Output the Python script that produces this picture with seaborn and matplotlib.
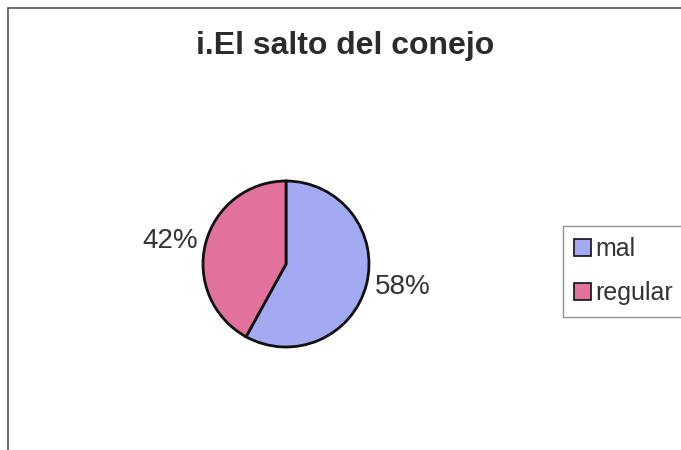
import matplotlib
matplotlib.use("Agg")
import matplotlib.pyplot as plt
from matplotlib.patches import Rectangle
import seaborn as sns

categories = ["mal", "regular"]
values = [58, 42]
colors = ["#A3AAF2", "#E2719C"]
title = "i.El salto del conejo"

sns.set_theme(style="white")
plt.rcParams["font.family"] = ["Liberation Sans", "DejaVu Sans"]

W, H = 681, 450
fig = plt.figure(figsize=(W / 100, H / 100), dpi=100)
fig.patch.set_facecolor("white")

# outer chart frame
fig.patches.append(Rectangle((8 / W, -0.05), 1.1, 1 - 8 / H + 0.05,
                             transform=fig.transFigure, fill=False,
                             edgecolor="#555555", linewidth=1.2))

cx, cy, r = 286, 264, 83
ax = fig.add_axes([(cx - r) / W, (H - cy - r) / H, 2 * r / W, 2 * r / H])
total = sum(values)
pct_labels = [f"{v / total * 100:.0f}%" for v in values]
wedges, texts = ax.pie(values, colors=colors, startangle=90, counterclock=False,
                       labels=pct_labels, labeldistance=1.1,
                       wedgeprops=dict(edgecolor="#111111", linewidth=2),
                       textprops=dict(fontsize=20, color="#333333"))
ax.set_xlim(-1, 1)
ax.set_ylim(-1, 1)
ax.set_aspect("equal")

fig.text(345 / W, 1 - 46 / H, title, ha="center", va="center",
         fontsize=23, fontweight="bold", color="#2b2b2b")

# legend box runs past the right edge of the figure
leg = fig.legend(wedges, categories, loc="upper left", mode="expand",
                 bbox_to_anchor=(563 / W, 1 - 226 / H, 135 / W, 0),
                 fontsize=18, frameon=True, fancybox=False,
                 handlelength=0.65, handleheight=0.65, handletextpad=0.2,
                 labelspacing=0.8, borderpad=0.45, borderaxespad=0)
leg.get_frame().set_edgecolor("#777777")
leg.get_frame().set_linewidth(1.0)
for t in leg.get_texts():
    t.set_color("#333333")
for h in leg.legend_handles:
    h.set_linewidth(1.2)

fig.savefig("out.png", dpi=100)
